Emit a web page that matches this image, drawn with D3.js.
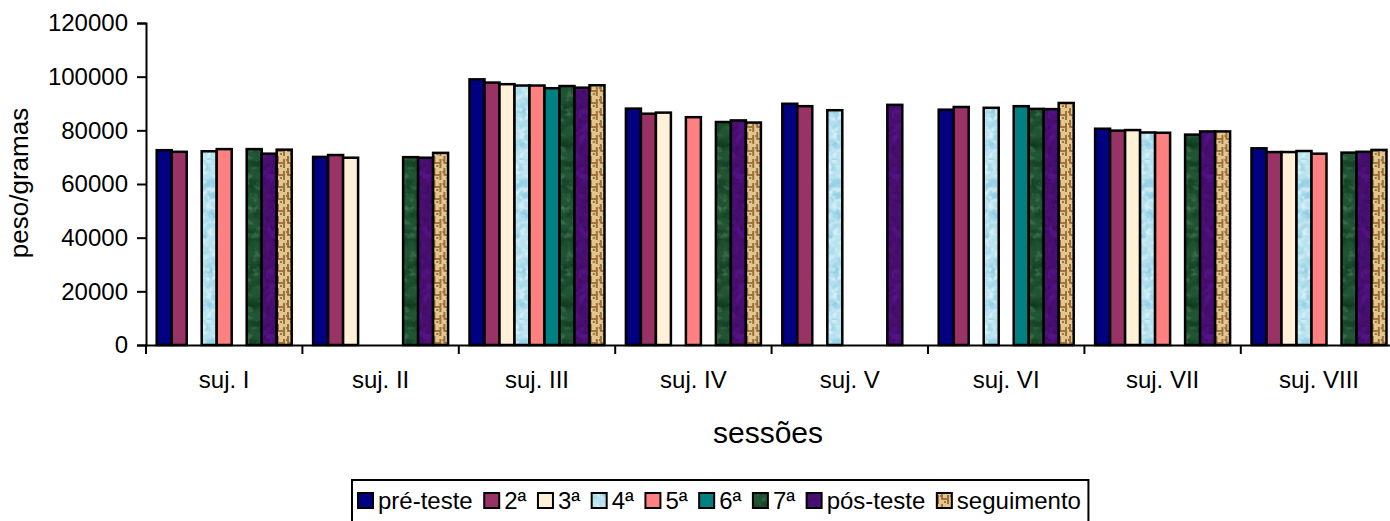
<!DOCTYPE html>
<html><head><meta charset="utf-8">
<script src="https://cdn.jsdelivr.net/npm/d3@7"></script>
<style>
body{margin:0;background:#fff;}
text{font-family:"Liberation Sans",Arial,sans-serif;fill:#000;}
</style></head>
<body><svg id="chart" width="1390" height="521"></svg>
<script>
const categories = ["suj. I","suj. II","suj. III","suj. IV","suj. V","suj. VI","suj. VII","suj. VIII"];
const seriesNames = ["pré-teste","2ª","3ª","4ª","5ª","6ª","7ª","pós-teste","seguimento"];
const preTeste   = [72600, 70100, 99000, 88100, 89900, 87700, 80600, 73300];
const s2         = [72000, 70800, 97800, 86200, 89000, 88700, 79900, 71900];
const s3         = [null,  69800, 97200, 86600, null,  null,  80100, 71900];
const s4         = [72200, null,  96700, null,  87500, 88400, 79200, 72300];
const s5         = [73000, null,  96700, 84900, null,  null,  79100, 71300];
const s6         = [null,  null,  95700, null,  null,  89000, null,  null];
const s7         = [73000, 70000, 96500, 83100, null,  88000, 78400, 71700];
const posTeste   = [71300, 69800, 95900, 83700, 89500, 87900, 79600, 72000];
const seguimento = [72800, 71600, 96800, 82900, null,  90200, 79600, 72700];
const yTicks = [0,20000,40000,60000,80000,100000,120000];

const seriesValues = [preTeste,s2,s3,s4,s5,s6,s7,posTeste,seguimento];

const svg = d3.select("#chart");
svg.append("rect").attr("width",1390).attr("height",521).attr("fill","#fff");
const defs = svg.append("defs");

// texture fills
function noiseFilter(id, freq, seed, rgb, a, b){
  const f = defs.append("filter").attr("id",id).attr("x",0).attr("y",0).attr("width",1).attr("height",1)
    .attr("filterUnits","objectBoundingBox").attr("color-interpolation-filters","sRGB");
  f.append("feTurbulence").attr("type","fractalNoise").attr("baseFrequency",freq).attr("numOctaves",2).attr("seed",seed);
  f.append("feColorMatrix").attr("type","matrix")
    .attr("values",`0 0 0 0 ${rgb[0]} 0 0 0 0 ${rgb[1]} 0 0 0 0 ${rgb[2]} ${a} 0 0 0 ${b}`);
}
function texturePattern(id, base, layers){
  const p = defs.append("pattern").attr("id",id).attr("patternUnits","userSpaceOnUse").attr("width",120).attr("height",160);
  p.append("rect").attr("width",120).attr("height",160).attr("fill",base);
  layers.forEach(fid=>p.append("rect").attr("width",120).attr("height",160).attr("fill","#fff").attr("filter",`url(#${fid})`));
}
noiseFilter("nBlue1",0.1,3,[0.55,0.80,0.89],2.6,-1.05);
noiseFilter("nBlue2",0.18,7,[0.90,0.97,0.99],2.2,-1.0);
texturePattern("pBlue","#b9e3ef",["nBlue1","nBlue2"]);
noiseFilter("nGreen1",0.08,5,[0.05,0.22,0.11],2.2,-0.9);
noiseFilter("nGreen2",0.15,11,[0.30,0.50,0.37],2.2,-1.15);
texturePattern("pGreen","#1f5533",["nGreen1","nGreen2"]);
noiseFilter("nPurple1",0.1,2,[0.36,0.08,0.56],2.0,-0.9);
noiseFilter("nPurple2",0.2,9,[0.22,0.02,0.33],2.0,-1.0);
texturePattern("pPurple","#460e6e",["nPurple1","nPurple2"]);

const pSeg = defs.append("pattern").attr("id","pSeg").attr("patternUnits","userSpaceOnUse").attr("width",10).attr("height",12);
pSeg.append("rect").attr("width",10).attr("height",12).attr("fill","#e2c68e");
pSeg.append("path").attr("d","M2,0 V7 H7 M8,3 V12 M4,10 H6 M0,4 H1")
  .attr("stroke","#8c5c28").attr("stroke-width",1.6).attr("fill","none");

const fills = ["#000080","#993366","#fff1d8","url(#pBlue)","#ff8080","#008080","url(#pGreen)","url(#pPurple)","url(#pSeg)"];

// scales
const x0 = d3.scaleBand().domain(categories).range([146, 146 + 8*156.4]).padding(0);
const x1 = d3.scaleBand().domain(seriesNames).range([10.7, 145.7]).padding(0);
const y = d3.scaleLinear().domain([0,120000]).range([345,23]);

// bars
const groups = svg.append("g").selectAll("g").data(categories).join("g")
  .attr("transform", d=>`translate(${x0(d)},0)`);
groups.selectAll("rect")
  .data((c,ci)=>seriesNames.map((s,si)=>({s, si, v: seriesValues[si][ci]})).filter(d=>d.v!=null))
  .join("rect")
  .attr("x", d=>x1(d.s))
  .attr("y", d=>y(d.v))
  .attr("width", x1.bandwidth())
  .attr("height", d=>y(0)-y(d.v))
  .attr("fill", d=>fills[d.si])
  .attr("stroke","#000").attr("stroke-width",2.5);

const FONT = "'Liberation Sans',Arial,sans-serif";
// y axis
const yAxis = svg.append("g").attr("transform","translate(146,0)")
  .call(d3.axisLeft(y).tickValues(yTicks).tickFormat(d3.format("d")).tickSize(9).tickPadding(9));
yAxis.select(".domain").attr("stroke","#000").attr("stroke-width",2);
yAxis.selectAll(".tick line").attr("stroke","#000").attr("stroke-width",2);
yAxis.selectAll(".tick text").style("font-size","24px").attr("fill","#000").style("font-family",FONT);

// x axis
const xAxis = svg.append("g").attr("transform","translate(0,345)")
  .call(d3.axisBottom(x0).tickSize(0).tickPadding(26));
xAxis.select(".domain").attr("stroke","#000").attr("stroke-width",2);
xAxis.selectAll(".tick text").style("font-size","24px").attr("fill","#000").style("font-family",FONT);
// boundary ticks between categories
xAxis.selectAll("line.sep").data(categories.concat(["end"])).join("line").attr("class","sep")
  .attr("x1",(d,i)=>146 + i*x0.step()).attr("x2",(d,i)=>146 + i*x0.step())
  .attr("y1",0).attr("y2",9).attr("stroke","#000").attr("stroke-width",2);

// axis titles
svg.append("text").attr("transform","translate(28,183) rotate(-90)").attr("text-anchor","middle")
  .style("font-size","26px").text("peso/gramas");
svg.append("text").attr("x",768).attr("y",443).attr("text-anchor","middle")
  .style("font-size","30px").text("sessões");

// legend
const leg = svg.append("g");
const legBox = leg.append("rect").attr("x",352).attr("y",480).attr("height",50)
  .attr("fill","#fff").attr("stroke","#000").attr("stroke-width",2);
let cx = 358;
seriesNames.forEach((s,i)=>{
  leg.append("rect").attr("x",cx).attr("y",493).attr("width",15).attr("height",15)
    .attr("fill",fills[i]).attr("stroke","#000").attr("stroke-width",2);
  const t = leg.append("text").attr("x",cx+20).attr("y",509).style("font-size","24px").text(s);
  cx += 20 + t.node().getComputedTextLength() + 11.5;
});
legBox.attr("width", cx - 352 - 4);
</script></body></html>
